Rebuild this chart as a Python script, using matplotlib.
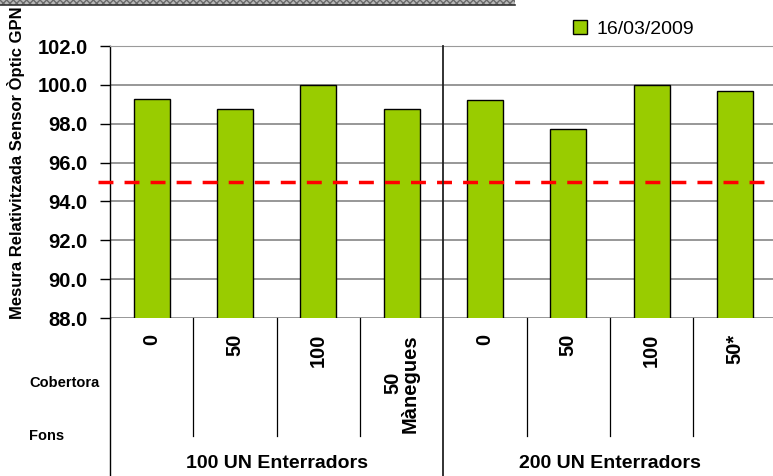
import matplotlib
matplotlib.use("Agg")
import matplotlib.pyplot as plt
import matplotlib.transforms as mtransforms
from matplotlib.patches import Rectangle
from matplotlib.lines import Line2D

# ---- data ----
cobertora = ["0", "50", "100", "50\nMànegues", "0", "50", "100", "50*"]
values = [99.27, 98.78, 100.0, 98.78, 99.2, 97.74, 100.0, 99.68]
groups = ["100 UN Enterradors", "200 UN Enterradors"]
group_sizes = [4, 4]
series_label = "16/03/2009"
threshold = 95.0
yticks = [88.0, 90.0, 92.0, 94.0, 96.0, 98.0, 100.0, 102.0]
row_labels = ["Cobertora", "Fons"]
ylabel = "Mesura Relativitzada Sensor Òptic GPN"

plt.rcParams['font.family'] = ['Liberation Sans', 'DejaVu Sans']

W, H = 773, 476
fig = plt.figure(figsize=(W / 100, H / 100), dpi=100)
ax = fig.add_axes([110 / W, 1 - 318 / H, 8 * 83.33 / W, (318 - 46) / H])

x = list(range(len(values)))
bars = ax.bar(x, values, width=0.43, color="#99CC00", edgecolor="black",
              linewidth=1.0, zorder=3, label=series_label)

ax.set_xlim(-0.5, len(values) - 0.5)
ax.set_ylim(yticks[0], yticks[-1])
ax.set_yticks(yticks)
ax.set_yticklabels([f"{v:.1f}" for v in yticks], fontsize=14.5, fontweight="bold")
ax.tick_params(axis="y", length=7, width=1, direction="out", pad=9)
ax.set_xticks([])
ax.yaxis.grid(True, color="#7a7a7a", linewidth=1.1, zorder=0)
ax.set_axisbelow(True)
for s in ["right", "bottom"]:
    ax.spines[s].set_visible(False)
ax.spines["top"].set_color("#9a9a9a")
ax.spines["left"].set_linewidth(1.0)

# threshold line (extends slightly left of axis)
blend = mtransforms.blended_transform_factory(ax.transAxes, ax.transData)
ax.plot([-0.018, 1.0], [threshold, threshold], transform=blend, color="#FF0000",
        linewidth=2.5, linestyle=(0, (4.3, 3.2)), zorder=4, clip_on=False)

xt = ax.get_xaxis_transform()
def ay(p):
    return (H - p - 158) / 272.0

# table lines
ax.plot([-0.5, -0.5], [0, ay(H)], transform=xt, color="black", lw=1, clip_on=False)
pos = 0
for gi, n in enumerate(group_sizes):
    for k in range(1, n):
        xs = pos + k - 0.5
        ax.plot([xs, xs], [0, ay(436)], transform=xt, color="black", lw=0.9, clip_on=False)
    pos += n
    if gi < len(group_sizes) - 1:
        ax.plot([pos - 0.5, pos - 0.5], [1, ay(H)], transform=xt, color="#222222",
                lw=1.3, clip_on=False, zorder=5)

# category labels
for i, lab in enumerate(cobertora):
    ax.text(i, ay(334), lab, transform=xt, rotation=90, ha="center", va="top",
            multialignment="center", fontsize=14.5, fontweight="bold", linespacing=0.9)

# group labels
pos = 0
for g, n in zip(groups, group_sizes):
    ax.text(pos + (n - 1) / 2, ay(464), g, transform=xt, ha="center", va="center",
            fontsize=14, fontweight="bold")
    pos += n

# row labels
fig.text(64 / W, 1 - 383 / H, row_labels[0], ha="center", va="center",
         fontsize=10.5, fontweight="bold")
fig.text(47 / W, 1 - 436 / H, row_labels[1], ha="center", va="center",
         fontsize=10.5, fontweight="bold")

# y label
fig.text(16 / W, 1 - 163 / H, ylabel, rotation=90, ha="center", va="center",
         fontsize=12, fontweight="bold")

# legend
handle = Rectangle((0, 0), 1, 1, facecolor="#99CC00", edgecolor="black", linewidth=1)
fig.legend([handle], [series_label], loc="center left",
           bbox_to_anchor=(563 / W, 1 - 29 / H), frameon=False, fontsize=14,
           handlelength=0.75, handleheight=0.75, handletextpad=0.45, borderpad=0)

# top banner
fig.patches.append(Rectangle((0, 1 - 5 / H), 515 / W, 5 / H, transform=fig.transFigure,
                             facecolor="#b8b8b8", edgecolor="#6a6a6a", hatch="xxxxx",
                             linewidth=0))
fig.lines.append(Line2D([0, 515 / W], [1 - 5 / H, 1 - 5 / H], transform=fig.transFigure,
                        color="#333333", linewidth=1.2))

fig.savefig("out.png", dpi=100)
